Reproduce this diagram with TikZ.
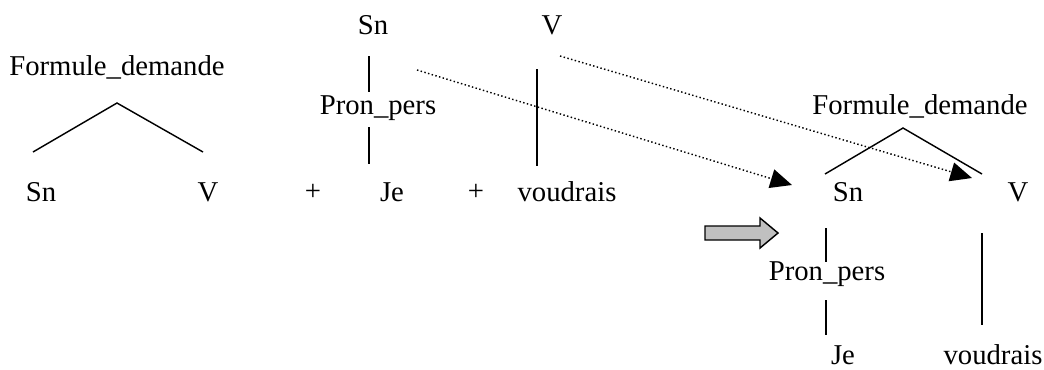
\documentclass[tikz,border=0pt]{standalone}
\usepackage{fontspec}
\setmainfont{Liberation Serif}
\usetikzlibrary{arrows.meta,positioning}
\definecolor{blockgray}{RGB}{192,192,192}

\begin{document}
\begin{tikzpicture}[x=0.418pt, y=-0.418pt,
  lbl/.style={font=\fontsize{12}{14}\selectfont, inner sep=0pt},
  brch/.style={line width=0.6pt},
  mov/.style={densely dotted, line width=0.6pt, -{Triangle[length=9pt,width=8pt]}},
]
\useasboundingbox (0,0) rectangle (1044,369);
% left: the rule
\node[lbl] (fd) at (117,67) {Formule\_demande};
\coordinate (fdtop) at (117,103);
\coordinate (fdl) at (33,152);
\coordinate (fdr) at (203,152);
\draw[brch] (fdl) -- (fdtop) -- (fdr);
\node[lbl] (sn) at (41,192) {Sn};
\node[lbl] (v) at (208,192) {V};
\node[lbl] (plus1) at (313,192) {+};
\node[lbl] (plus2) at (476,192) {+};
% middle: the words
\node[lbl] (snw) at (373,25) {Sn};
\node[lbl] (vw) at (552,25) {V};
\node[lbl] (pp) at (378,108) {Pron\_pers};
\node[lbl] (je) at (392,192) {Je};
\node[lbl] (voud) at (567,192) {voudrais};
\coordinate (snw1) at (369,56);
\coordinate (snw2) at (369,92);
\coordinate (pp1) at (369,127);
\coordinate (pp2) at (369,164);
\coordinate (vw1) at (537,69);
\coordinate (vw2) at (537,166);
\draw[brch] (snw1) -- (snw2);
\draw[brch] (pp1) -- (pp2);
\draw[brch] (vw1) -- (vw2);
% right: the result
\node[lbl] (fdR) at (920,106) {Formule\_demande};
\coordinate (fdRtop) at (903,128);
\coordinate (fdRl) at (825,174);
\coordinate (fdRr) at (982,174);
\draw[brch] (fdRl) -- (fdRtop) -- (fdRr);
\node[lbl] (snR) at (848,192) {Sn};
\node[lbl] (vR) at (1018,192) {V};
\node[lbl] (ppR) at (827,274) {Pron\_pers};
\node[lbl] (jeR) at (843,355) {Je};
\node[lbl] (voudR) at (993,355) {voudrais};
\coordinate (snR1) at (826,228);
\coordinate (snR2) at (826,262);
\coordinate (ppR1) at (826,300);
\coordinate (ppR2) at (826,335);
\coordinate (vR1) at (982,233);
\coordinate (vR2) at (982,325);
\draw[brch] (snR1) -- (snR2);
\draw[brch] (ppR1) -- (ppR2);
\draw[brch] (vR1) -- (vR2);
% moves
\coordinate (m1a) at (417,70);
\coordinate (m1b) at (792,185);
\coordinate (m2a) at (560,56);
\coordinate (m2b) at (972,178);
\draw[mov] (m1a) -- (m1b);
\draw[mov] (m2a) -- (m2b);
% big arrow
\draw[line width=0.6pt, fill=blockgray] (705,226) -- (760,226) -- (760,218)
  -- (778,233) -- (760,248) -- (760,240) -- (705,240) -- cycle;
\end{tikzpicture}
\end{document}
